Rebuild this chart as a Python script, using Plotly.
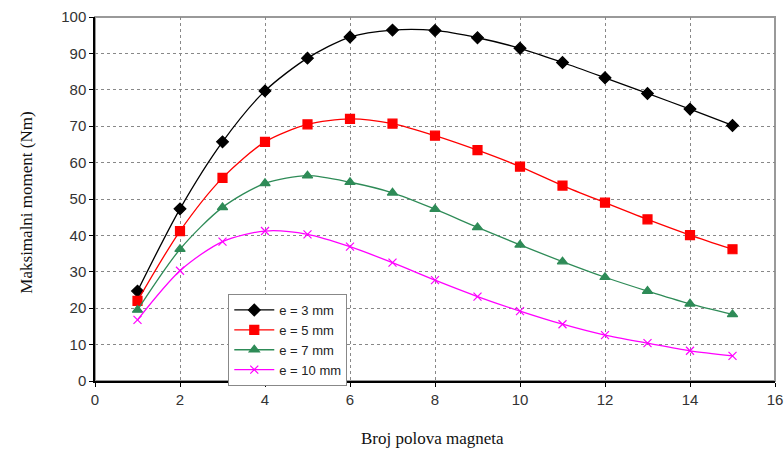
import plotly.graph_objects as go

poles = list(range(1, 16))
e3 = [24.7, 47.3, 65.7, 79.7, 88.7, 94.5, 96.4, 96.3, 94.3, 91.4, 87.5, 83.3, 79.0, 74.7, 70.2]
e5 = [22.0, 41.2, 55.8, 65.7, 70.5, 72.0, 70.7, 67.4, 63.4, 58.9, 53.7, 49.0, 44.4, 40.1, 36.2]
e7 = [19.5, 36.2, 47.7, 54.3, 56.4, 54.6, 51.7, 47.2, 42.2, 37.4, 32.8, 28.5, 24.7, 21.2, 18.3]
e10 = [16.8, 30.3, 38.3, 41.2, 40.3, 36.9, 32.5, 27.7, 23.2, 19.2, 15.6, 12.6, 10.4, 8.3, 6.9]
names = ["e = 3 mm", "e = 5 mm", "e = 7 mm", "e = 10 mm"]
x_ticks = list(range(0, 17, 2))
y_ticks = list(range(0, 101, 10))
x_title = "Broj polova magneta"
y_title = "Maksimalni moment (Nm)"

styles = [
    ("black", "diamond", 9),
    ("#ff0000", "square", 9),
    ("#2e8b57", "triangle-up", 9),
    ("#ff00ff", "x-thin-open", 8),
]

fig = go.Figure()
for ys, name, (col, sym, sz) in zip([e3, e5, e7, e10], names, styles):
    fig.add_trace(go.Scatter(
        x=poles, y=ys, name=name, mode="lines+markers",
        line=dict(color=col, width=1.3, shape="spline", smoothing=0.8),
        marker=dict(symbol=sym, size=sz, color=col, line=dict(color=col, width=1.2)),
    ))

fig.add_shape(type="rect", xref="paper", yref="paper", x0=0, y0=0, x1=1, y1=1,
              line=dict(color="#999999", width=2), layer="below")

title_font = dict(family="Liberation Serif, Times New Roman", size=17, color="#111")
fig.add_annotation(text=x_title, xref="paper", yref="paper", x=0.497, y=-0.157,
                   xanchor="center", yanchor="middle", showarrow=False, font=title_font)
fig.add_annotation(text=y_title, xref="paper", yref="paper", x=-0.1, y=0.49,
                   xanchor="center", yanchor="middle", showarrow=False,
                   textangle=-90, font=title_font)

fig.update_layout(
    width=784, height=454,
    margin=dict(l=95, r=9, t=17, b=73, autoexpand=False),
    paper_bgcolor="white", plot_bgcolor="white",
    font=dict(family="Liberation Sans, Arial", size=15, color="#333"),
    legend=dict(x=0.196, y=0.239, xanchor="left", yanchor="top",
                bordercolor="#888", borderwidth=1, bgcolor="white",
                font=dict(size=13, color="#222"), tracegroupgap=0,
                itemwidth=40),
    showlegend=True,
)
fig.update_xaxes(
    automargin=False,
    range=[0, 16], tickvals=x_ticks, showgrid=True, gridcolor="#888",
    griddash="dot", gridwidth=1, showline=True, linecolor="black", linewidth=1.5,
    ticks="outside", ticklen=4, tickcolor="black", zeroline=False,
)
fig.update_yaxes(
    automargin=False,
    range=[0, 100], tickvals=y_ticks, showgrid=True, gridcolor="#888",
    griddash="dot", gridwidth=1, showline=True, linecolor="black", linewidth=1.5,
    ticks="outside", ticklen=4, tickcolor="black", zeroline=False,
)

fig.write_html("out.html",
               config={"displayModeBar": False},
               post_script="document.body.style.margin='0';document.body.style.overflow='hidden';")
